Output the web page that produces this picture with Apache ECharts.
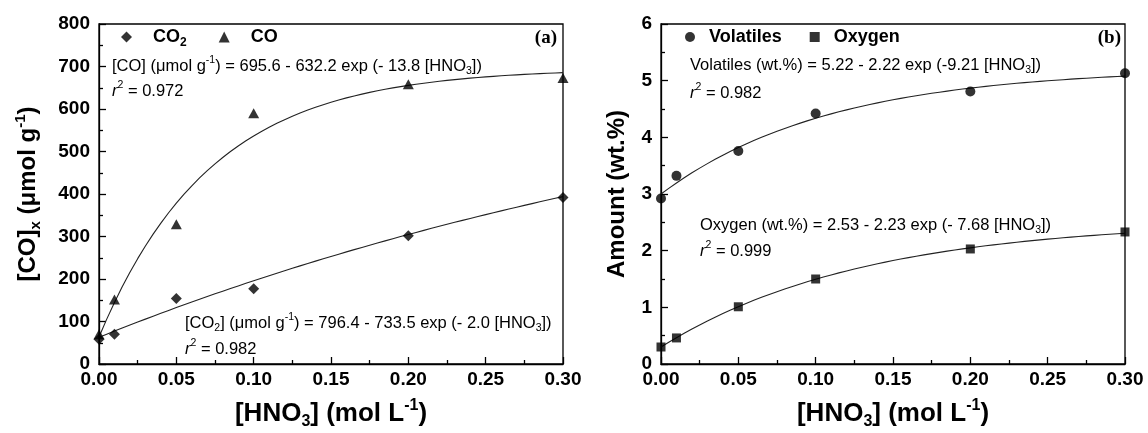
<!DOCTYPE html>
<html>
<head>
<meta charset="utf-8">
<script src="https://cdn.jsdelivr.net/npm/echarts@6/dist/echarts.min.js"></script>
<style>
  html, body { margin: 0; padding: 0; background: #fff; }
  #chart { width: 1148px; height: 433px; }
</style>
</head>
<body>
<div id="chart"></div>
<script>
// Measured points: nitric acid concentration (mol/L)
const hno3 = [0, 0.01, 0.05, 0.10, 0.20, 0.30];
// Panel (a): desorbed CO2 and CO (umol/g)
const co2 = [58, 70, 154, 177, 302, 392];
const co = [70, 152, 329, 590, 658, 673];
// Panel (b): volatiles and oxygen content (wt.%)
const volatiles = [2.92, 3.32, 3.76, 4.42, 4.81, 5.13];
const oxygen = [0.30, 0.46, 1.01, 1.50, 2.03, 2.33];

// Fit parameters [a, b, k] of y = a - b * exp(-k [HNO3]) and their r^2
const coFit = [695.6, 632.2, 13.8];
const co2Fit = [796.4, 733.5, 2.0];
const volFit = [5.22, 2.22, 9.21];
const oxyFit = [2.53, 2.23, 7.68];
const r2 = { co: 0.972, co2: 0.982, vol: 0.982, oxy: 0.999 };

// Tick labels
const xTickLabels = ['0.00', '0.05', '0.10', '0.15', '0.20', '0.25', '0.30'];
const yTickLabelsA = ['0', '100', '200', '300', '400', '500', '600', '700', '800'];
const yTickLabelsB = ['0', '1', '2', '3', '4', '5', '6'];

const FF = '"Liberation Sans", Arial, Helvetica, sans-serif';
const SERIF = '"Liberation Serif", "Times New Roman", serif';

// Sample a fitted exponential curve across the axis range
function fitCurve(p) {
  const pts = [];
  for (let i = 0; i <= 60; i++) {
    const x = i * 0.005;
    pts.push([x, p[0] - p[1] * Math.exp(-p[2] * x)]);
  }
  return pts;
}
const pairs = (ys) => hno3.map((x, i) => [x, ys[i]]);

function makeNameRich(size, lh, subSize) {
  return {
    b:   { fontFamily: FF, fontSize: size, fontWeight: 'bold', color: '#000', lineHeight: lh },
    sub: { fontFamily: FF, fontSize: subSize, fontWeight: 'bold', color: '#000', lineHeight: subSize, verticalAlign: 'bottom' },
    sup: { fontFamily: FF, fontSize: subSize, fontWeight: 'bold', color: '#000', lineHeight: subSize, verticalAlign: 'top' }
  };
}
const xNameRich = makeNameRich(26, 32, 16);
const yNameRich = makeNameRich(24, 30, 15);

const axisLineStyle = { color: '#000', width: 1.3 };
const tickFont = { color: '#000', fontFamily: FF, fontSize: 19, fontWeight: 'bold' };

function xAxis(gridIndex) {
  return {
    type: 'value', gridIndex, min: 0, max: 0.3, interval: 0.05,
    name: '{b|[HNO}{sub|3}{b|] (mol L}{sup|-1}{b|)}',
    nameLocation: 'middle', nameGap: 34, nameMoveOverlap: false,
    nameTextStyle: { rich: xNameRich },
    axisLine: { onZero: false, lineStyle: axisLineStyle },
    axisTick: { inside: true, length: 7, lineStyle: axisLineStyle },
    minorTick: { show: true, splitNumber: 2, length: 4, lineStyle: axisLineStyle },
    splitLine: { show: false },
    axisLabel: Object.assign({ margin: 6, formatter: (v, i) => xTickLabels[i] }, tickFont)
  };
}

function yAxis(gridIndex, max, interval, labels, name, gap) {
  return {
    type: 'value', gridIndex, min: 0, max, interval,
    name, nameLocation: 'middle', nameGap: gap, nameMoveOverlap: false,
    nameTextStyle: { rich: yNameRich },
    axisLine: { onZero: false, lineStyle: axisLineStyle },
    axisTick: { inside: true, length: 7, lineStyle: axisLineStyle },
    minorTick: { show: true, splitNumber: 2, length: 4, lineStyle: axisLineStyle },
    splitLine: { show: false },
    axisLabel: Object.assign({ margin: 9, formatter: (v, i) => labels[i] }, tickFont)
  };
}

const eqFont = '16.5px ' + FF;
const eqRich = {
  sub: { font: '10.5px ' + FF, fill: '#000', lineHeight: 10, verticalAlign: 'bottom' },
  sup: { font: '10.5px ' + FF, fill: '#000', lineHeight: 10, verticalAlign: 'top' },
  it:  { font: 'italic 16.5px ' + FF, fill: '#000', lineHeight: 22 },
  n:   { font: eqFont, fill: '#000', lineHeight: 22 }
};
function eqText(x, y, text) {
  return {
    type: 'text', x, y, z: 10,
    style: { text, rich: eqRich, font: eqFont, fill: '#000', align: 'left', verticalAlign: 'middle' }
  };
}
const hn = '{n|[HNO}{sub|3}{n|])}';

const legendText = { fontFamily: FF, fontSize: 18, fontWeight: 'bold', color: '#000', lineHeight: 24 };
function legendRich(pad) {
  return {
    n:   Object.assign({}, legendText, { padding: [0, 0, 0, pad] }),
    sub: { fontFamily: FF, fontSize: 12, fontWeight: 'bold', color: '#000', lineHeight: 12, verticalAlign: 'bottom' }
  };
}

const option = {
  backgroundColor: '#fff',
  animation: false,
  grid: [
    { left: 99, top: 24, width: 464, height: 340, show: true, borderColor: '#000', borderWidth: 1.3, outerBoundsMode: 'none' },
    { left: 661, top: 24, width: 464, height: 340, show: true, borderColor: '#000', borderWidth: 1.3, outerBoundsMode: 'none' }
  ],
  xAxis: [xAxis(0), xAxis(1)],
  yAxis: [
    yAxis(0, 800, 100, yTickLabelsA, '{b|[CO]}{sub|x}{b| (\u03bcmol g}{sup|-1}{b|)}', 56),
    yAxis(1, 6, 1, yTickLabelsB, '{b|Amount (wt.%)}', 29)
  ],
  legend: [
    {
      data: ['CO2', 'CO'], left: 121, top: 25, padding: 0,
      itemWidth: 11, itemHeight: 11, itemGap: 32,
      textStyle: Object.assign({}, legendText, { rich: legendRich(16) }),
      formatter: (n) => n === 'CO2' ? '{n|CO}{sub|2}' : '{n|' + n + '}'
    },
    {
      data: ['Volatiles', 'Oxygen'], left: 685, top: 25, padding: 0,
      itemWidth: 10, itemHeight: 10, itemGap: 28,
      textStyle: Object.assign({}, legendText, { rich: legendRich(9) }),
      formatter: (n) => '{n|' + n + '}'
    }
  ],
  series: [
    { type: 'line', xAxisIndex: 0, yAxisIndex: 0, data: fitCurve(coFit), showSymbol: false, symbol: 'none',
      lineStyle: { color: '#222', width: 1.1 }, silent: true, z: 2 },
    { type: 'line', xAxisIndex: 0, yAxisIndex: 0, data: fitCurve(co2Fit), showSymbol: false, symbol: 'none',
      lineStyle: { color: '#222', width: 1.1 }, silent: true, z: 2 },
    { type: 'line', xAxisIndex: 1, yAxisIndex: 1, data: fitCurve(volFit), showSymbol: false, symbol: 'none',
      lineStyle: { color: '#222', width: 1.1 }, silent: true, z: 2 },
    { type: 'line', xAxisIndex: 1, yAxisIndex: 1, data: fitCurve(oxyFit), showSymbol: false, symbol: 'none',
      lineStyle: { color: '#222', width: 1.1 }, silent: true, z: 2 },
    { type: 'scatter', name: 'CO2', xAxisIndex: 0, yAxisIndex: 0, data: pairs(co2), symbol: 'diamond',
      symbolSize: 11, itemStyle: { color: '#000' }, clip: false, z: 3 },
    { type: 'scatter', name: 'CO', xAxisIndex: 0, yAxisIndex: 0, data: pairs(co), symbol: 'triangle',
      symbolSize: [11, 10], itemStyle: { color: '#000' }, clip: false, z: 3 },
    { type: 'scatter', name: 'Volatiles', xAxisIndex: 1, yAxisIndex: 1, data: pairs(volatiles), symbol: 'circle',
      symbolSize: 10, itemStyle: { color: '#000' }, clip: false, z: 3 },
    { type: 'scatter', name: 'Oxygen', xAxisIndex: 1, yAxisIndex: 1, data: pairs(oxygen), symbol: 'rect',
      symbolSize: 9, itemStyle: { color: '#000' }, clip: false, z: 3 }
  ],
  graphic: [
    eqText(112, 66, '{n|[CO] (\u03bcmol g}{sup|-1}{n|) = ' + coFit[0].toFixed(1) + ' - ' + coFit[1].toFixed(1) +
      ' exp (- ' + coFit[2].toFixed(1) + ' }' + hn),
    eqText(112, 91, '{it|r}{sup|2}{n| = ' + r2.co.toFixed(3) + '}'),
    eqText(185, 323, '{n|[CO}{sub|2}{n|] (\u03bcmol g}{sup|-1}{n|) = ' + co2Fit[0].toFixed(1) + ' - ' + co2Fit[1].toFixed(1) +
      ' exp (- ' + co2Fit[2].toFixed(1) + ' }' + hn),
    eqText(185, 349, '{it|r}{sup|2}{n| = ' + r2.co2.toFixed(3) + '}'),
    eqText(690, 65, '{n|Volatiles (wt.%) = ' + volFit[0].toFixed(2) + ' - ' + volFit[1].toFixed(2) +
      ' exp (-' + volFit[2].toFixed(2) + ' }' + hn),
    eqText(690, 93, '{it|r}{sup|2}{n| = ' + r2.vol.toFixed(3) + '}'),
    eqText(700, 225, '{n|Oxygen (wt.%) = ' + oxyFit[0].toFixed(2) + ' - ' + oxyFit[1].toFixed(2) +
      ' exp (- ' + oxyFit[2].toFixed(2) + ' }' + hn),
    eqText(700, 251, '{it|r}{sup|2}{n| = ' + r2.oxy.toFixed(3) + '}'),
    { type: 'text', x: 557, y: 38, z: 10,
      style: { text: '(a)', font: 'bold 19px ' + SERIF, fill: '#000', align: 'right', verticalAlign: 'middle' } },
    { type: 'text', x: 1121, y: 38, z: 10,
      style: { text: '(b)', font: 'bold 19px ' + SERIF, fill: '#000', align: 'right', verticalAlign: 'middle' } }
  ]
};

const chart = echarts.init(document.getElementById('chart'), null, { renderer: 'canvas' });
chart.setOption(option);
</script>
</body>
</html>
